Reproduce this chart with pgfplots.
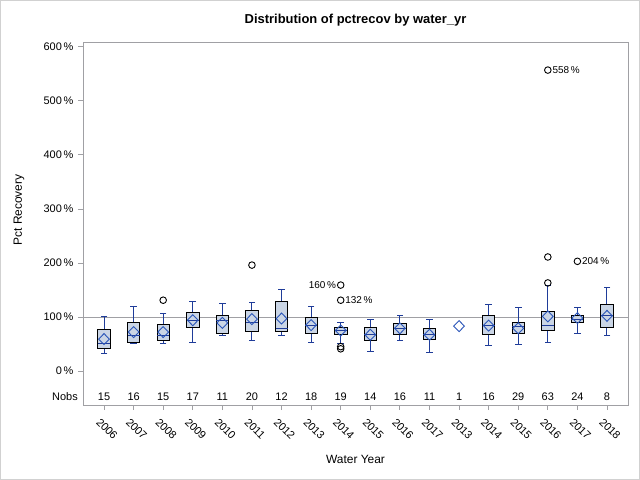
\documentclass[border=0pt]{standalone}
\usepackage{fontspec}
\setmainfont{Liberation Sans}
\usepackage{pgfplots}
\usepackage{pgfplotstable}
\pgfplotsset{compat=1.18}
\definecolor{boxfill}{HTML}{CAD5E5}
\definecolor{sasblue}{HTML}{1F3C99}
\definecolor{meanblue}{HTML}{2A55B8}
\definecolor{framegray}{HTML}{A0A0A4}

% x, lower whisker, lower quartile, median, upper quartile, upper whisker
\pgfplotstableread{
x lw q1 med q3 uw
0 33 41 51 77 100
1 50 53 65 90 120
2 50 57 65 86 107
3 53 81 93 109 129
4 66 70 93 102 125
5 56 73 89 112 127
6 65 73 78 128 150
7 53 70 84 100 120
8 50 68 75 81 89
9 36 57 68 81 96
10 57 68 79 88 103
11 35 59 68 79 96
13 48 68 84 103 123
14 49 70 82 90 118
15 52 76 85 111 158
16 70 89 96 102 117
17 65 81 102 123 154
}\boxes

\pgfplotstableread{
x mean
0 59
1 72
2 72
3 94
4 89
5 96
6 97
7 85
8 75
9 67
10 79
11 67
12 83
13 84
14 79
15 101
16 98
17 102
}\means

\pgfplotstableread{
x n
0 15
1 16
2 15
3 17
4 11
5 20
6 12
7 18
8 19
9 14
10 16
11 11
12 1
13 16
14 29
15 63
16 24
17 8
}\nobs

\pgfplotstableread{
x y
2 131
5 196
8 159
8 131
8 45
8 41
15 557
15 211
15 163
16 203
}\outliers

\pgfplotstableread{
x y lab
8 131 132
15 557 558
16 203 204
}\labwest

\pgfplotstableread{
x y lab
8 159 160
}\labeast

\begin{document}
\begin{tikzpicture}
\useasboundingbox (0,0) rectangle (640bp,480bp);
\draw[black!18, line width=1bp] (0.5bp,0.5bp) rectangle (639.5bp,479.5bp);
\begin{axis}[
  at={(83bp,75bp)}, anchor=south west,
  scale only axis, width=545bp, height=363bp,
  xmin=-0.71, xmax=17.71, ymin=-63, ymax=609,
  axis line style={framegray, line width=0.8bp},
  tick align=outside, tick pos=left,
  major tick length=5bp,
  tick style={framegray, line width=0.8bp},
  /pgf/number format/assume math mode=true,
  ytick={0,100,...,600},
  yticklabel={\pgfmathprintnumber{\tick}\,\%},
  yticklabel style={font=\fontsize{11}{13}\selectfont, xshift=-1bp},
  xtick={0,...,17},
  xticklabels={2006,2007,2008,2009,2010,2011,2012,2013,2014,2015,2016,2017,2013,2014,2015,2016,2017,2018},
  xticklabel style={font=\fontsize{11}{13}\selectfont, yshift=-19bp, xshift=3bp, rotate=-45, anchor=center},
  clip=false,
  bx/.style={draw=black, fill=boxfill, line width=0.8bp, mark=none},
]
% reference line
\addplot[framegray, line width=0.8bp] coordinates {(-0.71,100) (17.71,100)};

% whiskers (vertical lines lw..uw)
\addplot[draw=none, mark=none, sasblue,
  error bars/.cd, y dir=both, y explicit, error mark=none,
  error bar style={sasblue, line width=1bp}]
  table[x=x, y=med, y error plus expr=\thisrow{uw}-\thisrow{med}, y error minus expr=\thisrow{med}-\thisrow{lw}] {\boxes};
% whisker caps
\addplot[only marks, mark=-, mark size=3.3bp, mark options={draw=sasblue, line width=1bp}]
  table[x=x, y=lw] {\boxes};
\addplot[only marks, mark=-, mark size=3.3bp, mark options={draw=sasblue, line width=1bp}]
  table[x=x, y=uw] {\boxes};

% boxes (lower to upper quartile)
\addplot[bx] coordinates {(-0.21,41) (0.21,41) (0.21,77) (-0.21,77)} --cycle;
\addplot[bx] coordinates {(0.79,53) (1.21,53) (1.21,90) (0.79,90)} --cycle;
\addplot[bx] coordinates {(1.79,57) (2.21,57) (2.21,86) (1.79,86)} --cycle;
\addplot[bx] coordinates {(2.79,81) (3.21,81) (3.21,109) (2.79,109)} --cycle;
\addplot[bx] coordinates {(3.79,70) (4.21,70) (4.21,102) (3.79,102)} --cycle;
\addplot[bx] coordinates {(4.79,73) (5.21,73) (5.21,112) (4.79,112)} --cycle;
\addplot[bx] coordinates {(5.79,73) (6.21,73) (6.21,128) (5.79,128)} --cycle;
\addplot[bx] coordinates {(6.79,70) (7.21,70) (7.21,100) (6.79,100)} --cycle;
\addplot[bx] coordinates {(7.79,68) (8.21,68) (8.21,81) (7.79,81)} --cycle;
\addplot[bx] coordinates {(8.79,57) (9.21,57) (9.21,81) (8.79,81)} --cycle;
\addplot[bx] coordinates {(9.79,68) (10.21,68) (10.21,88) (9.79,88)} --cycle;
\addplot[bx] coordinates {(10.79,59) (11.21,59) (11.21,79) (10.79,79)} --cycle;
\addplot[bx] coordinates {(12.79,68) (13.21,68) (13.21,103) (12.79,103)} --cycle;
\addplot[bx] coordinates {(13.79,70) (14.21,70) (14.21,90) (13.79,90)} --cycle;
\addplot[bx] coordinates {(14.79,76) (15.21,76) (15.21,111) (14.79,111)} --cycle;
\addplot[bx] coordinates {(15.79,89) (16.21,89) (16.21,102) (15.79,102)} --cycle;
\addplot[bx] coordinates {(16.79,81) (17.21,81) (17.21,123) (16.79,123)} --cycle;

% medians
\addplot[only marks, mark=-, mark size=6.0bp, mark options={draw=sasblue, line width=1bp}]
  table[x=x, y=med] {\boxes};

% means
\addplot[only marks, mark=diamond, mark size=5.5bp,
  mark options={draw=meanblue, fill=none, xscale=1.3, line width=0.9bp}]
  table[x=x, y=mean] {\means};

% outliers
\addplot[only marks, mark=o, mark size=3.3bp,
  mark options={draw=black, line width=0.9bp}]
  table[x=x, y=y] {\outliers};

% outlier labels
\addplot[draw=none, mark=none, point meta=explicit,
  nodes near coords={\pgfmathprintnumber{\pgfplotspointmeta}\,\%},
  every node near coord/.append style={anchor=west, xshift=3.5bp, inner sep=1bp, font=\fontsize{10}{12}\selectfont}]
  table[x=x, y=y, meta=lab] {\labwest};
\addplot[draw=none, mark=none, point meta=explicit,
  nodes near coords={\pgfmathprintnumber{\pgfplotspointmeta}\,\%},
  every node near coord/.append style={anchor=east, xshift=-3.5bp, inner sep=1bp, font=\fontsize{10}{12}\selectfont}]
  table[x=x, y=y, meta=lab] {\labeast};

% Nobs row
\addplot[draw=none, mark=none, point meta=explicit,
  nodes near coords={\pgfmathprintnumber{\pgfplotspointmeta}},
  every node near coord/.append style={anchor=center, inner sep=0pt, font=\fontsize{11}{13}\selectfont}]
  table[x=x, y expr=-48, meta=n] {\nobs};

\node[anchor=east, font=\fontsize{11}{13}\selectfont, inner sep=0pt] at ([xshift=-5bp]axis cs:-0.71,-48) {Nobs};
\node[rotate=90, anchor=center, font=\fontsize{12}{14}\selectfont] at ([xshift=-64bp]axis cs:-0.71,298) {Pct Recovery};
\node[anchor=center, font=\fontsize{12}{14}\selectfont] at ([yshift=-54bp]axis cs:8.5,-63) {Water Year};
\node[anchor=center, font=\bfseries\fontsize{13}{15}\selectfont] at ([yshift=22bp]axis cs:8.5,609) {Distribution of pctrecov by water\_yr};
\end{axis}
\end{tikzpicture}
\end{document}
